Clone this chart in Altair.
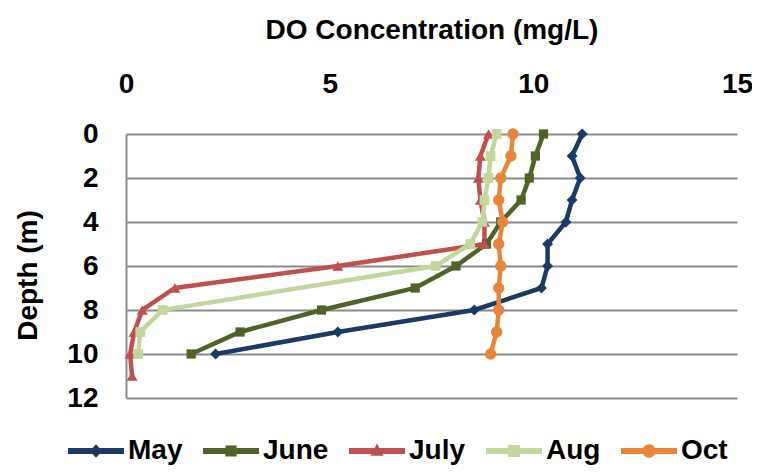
import altair as alt
import pandas as pd

months = ["May", "June", "July", "Aug", "Oct"]
colors = ["#1B3A66", "#4F6228", "#C0504D", "#C3D69B", "#E7853A"]

may_depth = [0, 1, 2, 3, 4, 5, 6, 7, 8, 9, 10]
may_do = [11.2, 10.95, 11.15, 10.95, 10.8, 10.35, 10.35, 10.2, 8.55, 5.2, 2.2]

june_depth = [0, 1, 2, 3, 4, 5, 6, 7, 8, 9, 10]
june_do = [10.25, 10.05, 9.9, 9.7, 9.2, 8.85, 8.1, 7.1, 4.8, 2.8, 1.6]

july_depth = [0, 1, 2, 3, 4, 5, 6, 7, 8, 9, 10, 11]
july_do = [8.9, 8.7, 8.65, 8.7, 8.8, 8.8, 5.2, 1.2, 0.4, 0.2, 0.1, 0.15]

aug_depth = [0, 1, 2, 3, 4, 5, 6, 8, 9, 10]
aug_do = [9.1, 8.95, 8.9, 8.8, 8.75, 8.45, 7.6, 0.9, 0.35, 0.3]

oct_depth = [0, 1, 2, 3, 4, 5, 6, 7, 8, 9, 10]
oct_do = [9.5, 9.45, 9.2, 9.15, 9.25, 9.15, 9.2, 9.15, 9.15, 9.1, 8.95]

x_ticks = [0, 5, 10, 15]
y_ticks = [0, 2, 4, 6, 8, 10, 12]

series = {
    "May": (may_depth, may_do),
    "June": (june_depth, june_do),
    "July": (july_depth, july_do),
    "Aug": (aug_depth, aug_do),
    "Oct": (oct_depth, oct_do),
}
rows = []
for m, (ds, vs) in series.items():
    for d, v in zip(ds, vs):
        rows.append({"month": m, "depth": d, "do": v})
df = pd.DataFrame(rows)

FONT = "Liberation Sans"
GRID = "#8A8A8A"
color_of = dict(zip(months, colors))

W, H = 611, 264
PAD_L, PAD_T = 118, 126

x_enc = alt.X(
    "do:Q",
    scale=alt.Scale(domain=[0, 15], nice=False),
    axis=alt.Axis(
        orient="top", values=x_ticks, grid=False, domain=False, ticks=False,
        labelFlush=False,
        title="DO Concentration (mg/L)", titleFontSize=28, titleFont=FONT,
        titleFontWeight="bold", titleColor="black",
        titleX=W / 2, titleY=-96, titleAlign="center", titleBaseline="alphabetic",
        labelFontSize=28, labelFont=FONT, labelFontWeight="bold", labelColor="black",
        labelBaseline="alphabetic", labelPadding=42,
    ),
)
y_enc = alt.Y(
    "depth:Q",
    scale=alt.Scale(domain=[0, 12], reverse=True, nice=False),
    axis=alt.Axis(
        values=y_ticks, grid=True, gridColor=GRID, gridWidth=2,
        domain=True, domainColor=GRID, domainWidth=2, ticks=False,
        title="Depth (m)", titleFontSize=28, titleFont=FONT, titleFontWeight="bold",
        titleColor="black", titleX=-98, titleY=141, titleAlign="center",
        titleBaseline="middle",
        labelFontSize=28, labelFont=FONT, labelFontWeight="bold", labelColor="black",
        labelPadding=28, labelAlign="right", labelBaseline="middle",
    ),
)

base = alt.Chart(df)

shape_map = {"May": ("diamond", 120), "June": ("square", 85), "July": ("triangle-up", 120),
             "Aug": ("square", 95), "Oct": ("circle", 130)}

layers = []
for i, m in enumerate(months):
    sub = base.transform_filter(alt.datum.month == m)
    layers.append(
        sub.mark_line(strokeWidth=4.5, color=color_of[m]).encode(
            x=x_enc if i == 0 else "do:Q",
            y=y_enc if i == 0 else "depth:Q",
            order="depth:Q",
        )
    )
for m in months:
    shp, sz = shape_map[m]
    layers.append(
        base.transform_filter(alt.datum.month == m)
        .mark_point(filled=True, shape=shp, size=sz, opacity=1, color=color_of[m])
        .encode(x="do:Q", y="depth:Q")
    )

# legend symbols: a line segment with the series marker on it
bar = "M-1,-0.105 L1,-0.105 L1,0.105 L-1,0.105 Z "
legend_paths = [
    bar + "M0,-0.24 L0.22,0 L0,0.24 L-0.22,0 Z",
    bar + "M-0.2,-0.2 L0.2,-0.2 L0.2,0.2 L-0.2,0.2 Z",
    bar + "M0,-0.27 L0.24,0.17 L-0.24,0.17 Z",
    bar + "M-0.21,-0.21 L0.21,-0.21 L0.21,0.21 L-0.21,0.21 Z",
    bar + "M0.24,0 A0.24,0.24 0 1,1 -0.24,0 A0.24,0.24 0 1,1 0.24,0 Z",
]

legend_layer = base.transform_filter(alt.datum.depth == 0).mark_point(
    filled=True, size=0, opacity=1
).encode(
    x="do:Q", y="depth:Q",
    color=alt.Color("month:N", scale=alt.Scale(domain=months, range=colors),
                    sort=months, title=None),
    shape=alt.Shape("month:N", scale=alt.Scale(domain=months, range=legend_paths),
                    sort=months, title=None),
)
layers.append(legend_layer)

chart = alt.layer(*layers).properties(
    width=W, height=H,
    autosize=alt.AutoSizeParams(type="none"),
    padding={"left": PAD_L, "top": PAD_T, "right": 744 - PAD_L - W, "bottom": 458 - PAD_T - H},
).configure_view(stroke=None).configure_legend(
    orient="none", legendX=68 - 8 - PAD_L, legendY=289, direction="horizontal",
    symbolSize=3136, symbolStrokeWidth=0, labelFontSize=28, labelFont=FONT,
    labelFontWeight="bold", labelColor="black", labelOffset=4, columnPadding=20,
    gridAlign="none",
)

chart.save("out.html", embed_options={"renderer": "svg", "actions": False})
